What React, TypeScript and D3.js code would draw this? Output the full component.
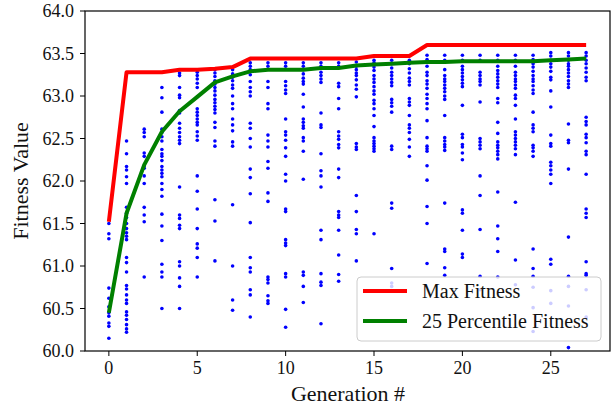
import React from 'react'
import * as d3 from 'd3'

// generation index
const generations = [0, 1, 2, 3, 4, 5, 6, 7, 8, 9, 10, 11, 12, 13, 14, 15, 16, 17, 18, 19, 20, 21, 22, 23, 24, 25, 26, 27]

const maxFitness = [
  61.52, 63.28, 63.28, 63.28, 63.31, 63.31, 63.32, 63.34, 63.44, 63.44, 63.44, 63.44, 63.44, 63.44,
  63.44, 63.47, 63.47, 63.47, 63.6, 63.6, 63.6, 63.6, 63.6, 63.6, 63.6, 63.6, 63.6, 63.6,
]

const p25Fitness = [
  60.45, 61.62, 62.19, 62.58, 62.82, 62.99, 63.16, 63.23, 63.29, 63.31, 63.31, 63.31, 63.33, 63.33,
  63.36, 63.37, 63.38, 63.39, 63.4, 63.4, 63.41, 63.41, 63.41, 63.41, 63.41, 63.42, 63.43, 63.44,
]

// fitness of every individual, one list per generation
const population = [
  [61.5, 61.38, 61.32, 60.74, 60.62, 60.52, 60.45, 60.41, 60.33, 60.29, 60.15],
  [62.47, 62.32, 62.17, 62.13, 62.05, 61.97, 61.69, 61.62, 61.57, 61.5, 61.44, 61.39, 61.35, 61.31, 61.1, 61.04, 60.93, 60.77, 60.73, 60.66, 60.6, 60.56, 60.46, 60.42, 60.37, 60.31, 60.26, 60.22],
  [62.61, 62.57, 62.52, 62.33, 62.29, 62.18, 62.15, 62.06, 61.97, 61.69, 61.6, 61.52, 60.87],
  [63.1, 62.98, 62.81, 62.61, 62.57, 62.52, 62.47, 62.37, 62.32, 62.29, 62.24, 62.17, 62.13, 62.09, 62.05, 61.97, 61.9, 61.82, 61.61, 61.47, 61.3, 61.02, 60.93, 60.87, 60.5],
  [63.27, 63.24, 63.1, 63.01, 62.98, 62.83, 62.8, 62.68, 62.62, 62.57, 62.52, 62.48, 62.44, 61.93, 61.6, 61.56, 61.48, 61.44, 61.05, 61.0, 60.86, 60.76, 60.5],
  [63.28, 63.24, 63.2, 63.15, 63.1, 62.85, 62.81, 62.77, 62.73, 62.69, 62.66, 62.58, 62.53, 62.48, 62.06, 61.88, 61.67, 61.44, 61.26, 61.21, 61.1, 60.87],
  [63.31, 63.27, 63.23, 63.18, 63.14, 63.1, 63.06, 63.01, 62.96, 62.92, 62.88, 62.84, 62.8, 62.69, 62.63, 62.47, 62.41, 61.78, 61.53, 61.06],
  [63.31, 63.26, 63.22, 63.18, 63.13, 63.09, 63.0, 62.91, 62.85, 62.73, 62.66, 62.59, 62.46, 62.41, 61.72, 61.0, 60.6, 60.48],
  [63.39, 63.35, 63.31, 63.25, 63.17, 63.1, 63.05, 63.0, 62.68, 62.62, 62.5, 62.4, 62.14, 62.04, 61.85, 61.51, 61.1, 60.98, 60.93, 60.72, 60.66, 60.4],
  [63.39, 63.35, 63.17, 63.1, 62.91, 62.85, 62.54, 62.47, 62.4, 62.23, 62.15, 61.86, 61.76, 60.87, 60.84, 60.8, 60.65, 60.59, 60.56],
  [63.39, 63.35, 63.17, 63.12, 63.07, 63.03, 62.73, 62.58, 62.54, 62.48, 62.39, 62.29, 62.08, 62.0, 61.67, 61.64, 61.31, 61.27, 61.24, 60.91, 60.87, 60.49, 60.28],
  [63.39, 63.35, 63.31, 63.26, 63.21, 63.17, 63.14, 63.02, 62.87, 62.73, 62.69, 62.65, 62.62, 62.51, 62.47, 62.35, 62.02, 60.93, 60.89, 60.76, 60.57],
  [63.39, 63.35, 63.28, 63.24, 63.2, 63.16, 62.8, 62.66, 62.63, 62.32, 62.12, 62.06, 61.93, 61.42, 61.31, 60.91, 60.81, 60.77, 60.32],
  [63.39, 63.35, 63.15, 63.11, 62.97, 62.85, 62.58, 62.53, 62.49, 62.43, 62.39, 62.14, 62.04, 61.64, 61.6, 61.57, 61.42, 61.13, 60.9, 60.82],
  [63.4, 63.35, 63.31, 63.27, 63.24, 63.19, 63.13, 63.08, 62.99, 62.44, 62.4, 62.37, 61.83, 61.64, 61.43, 61.38, 61.06],
  [63.42, 63.39, 63.34, 63.3, 63.24, 63.2, 63.16, 63.11, 63.06, 63.02, 62.95, 62.91, 62.85, 62.77, 62.64, 62.51, 62.47, 62.44, 62.41, 62.38, 62.35, 61.38],
  [63.42, 63.38, 63.33, 63.28, 63.24, 63.2, 63.16, 63.12, 62.96, 62.92, 62.88, 62.81, 62.41, 62.37, 61.74, 61.68, 60.97, 60.8, 60.76],
  [63.42, 63.38, 63.32, 63.27, 63.21, 63.17, 63.13, 62.97, 62.93, 62.89, 62.77, 62.66, 62.62, 62.57, 62.49, 62.4, 62.29],
  [63.48, 63.43, 63.35, 63.28, 63.24, 63.18, 63.14, 63.09, 63.02, 62.97, 62.91, 62.85, 62.71, 62.51, 62.41, 62.38, 62.35, 62.18, 62.01, 61.7, 61.5, 61.03],
  [63.48, 63.42, 63.31, 63.24, 63.2, 63.17, 63.13, 63.09, 63.05, 63.0, 62.96, 62.77, 62.51, 62.47, 62.43, 62.4, 62.36, 61.74, 61.2, 61.17, 60.98, 60.89],
  [63.48, 63.42, 63.35, 63.31, 63.27, 63.23, 63.19, 63.15, 63.11, 62.89, 62.55, 62.51, 62.43, 62.4, 62.33, 62.25, 61.66, 61.62, 61.42, 61.14, 61.1],
  [63.48, 63.42, 63.28, 63.24, 63.2, 63.17, 63.13, 62.93, 62.5, 62.46, 62.42, 62.38, 62.06, 61.83, 61.43, 60.88, 60.72],
  [63.48, 63.42, 63.35, 63.3, 63.26, 63.22, 63.18, 63.14, 63.1, 62.97, 62.92, 62.69, 62.56, 62.46, 62.42, 62.39, 62.35, 62.31, 62.26, 61.87, 61.47, 61.32, 61.17, 60.87],
  [63.48, 63.42, 63.35, 63.28, 63.24, 63.2, 63.17, 63.13, 63.09, 63.01, 62.97, 62.89, 62.73, 62.58, 62.54, 62.5, 62.46, 62.42, 62.38, 62.31, 61.75, 61.07, 60.78],
  [63.48, 63.43, 63.38, 63.34, 63.29, 63.24, 63.2, 63.17, 63.12, 63.07, 63.03, 62.81, 62.66, 62.62, 62.58, 62.42, 62.39, 62.35, 62.29, 61.2, 60.97, 60.88, 60.75, 60.51, 60.23],
  [63.51, 63.47, 63.42, 63.38, 63.34, 63.29, 63.22, 63.19, 63.06, 62.87, 62.54, 62.44, 62.41, 62.22, 62.18, 62.13, 62.08, 61.97, 61.08, 61.02, 60.71, 60.56],
  [63.51, 63.47, 63.42, 63.38, 63.35, 63.31, 63.27, 63.23, 63.18, 63.14, 63.1, 62.67, 62.48, 62.45, 62.14, 61.34, 60.88, 60.76, 60.53, 60.04],
  [63.51, 63.47, 63.42, 63.38, 63.33, 63.28, 63.22, 63.18, 62.75, 62.7, 62.66, 62.55, 62.51, 62.45, 62.35, 62.31, 62.08, 61.67, 61.62, 61.57, 61.05, 60.91, 60.89, 60.72, 60.4],
]

const xTicks = [0, 5, 10, 15, 20, 25]
const yTicks = [60.0, 60.5, 61.0, 61.5, 62.0, 62.5, 63.0, 63.5, 64.0]

const W = 612
const H = 406
const font = '"Liberation Serif", "Times New Roman", serif'

export default function App() {
  const left = 85, right = 610, top = 11, bottom = 351
  const x = d3.scaleLinear().domain([-1.35, 28.35]).range([left, right])
  const y = d3.scaleLinear().domain([60, 64]).range([bottom, top])

  const line = d3.line<number>()
    .x((_, i) => x(generations[i]))
    .y(d => y(d))

  const dots: { g: number; v: number }[] = []
  population.forEach((vals, i) => vals.forEach(v => dots.push({ g: generations[i], v })))

  const lx = 357, ly = 277

  return (
    <div style={{ position: 'fixed', left: 0, top: 0 }}>
      <svg width={W} height={H} style={{ display: 'block', background: '#fff' }} fontFamily={font}>
        <defs>
          <clipPath id="plot">
            <rect x={left} y={top} width={right - left} height={bottom - top} />
          </clipPath>
        </defs>
        <g clipPath="url(#plot)">
          {dots.map((d, i) => (
            <circle key={i} cx={x(d.g)} cy={y(d.v)} r={1.8} fill="#0000ff" />
          ))}
          <path d={line(maxFitness) || ''} fill="none" stroke="#ff0000" strokeWidth={4} strokeLinejoin="round" />
          <path d={line(p25Fitness) || ''} fill="none" stroke="#008000" strokeWidth={4} strokeLinejoin="round" />
        </g>
        <rect x={left} y={top} width={right - left} height={bottom - top} fill="none" stroke="#000" strokeWidth={1.2} />

        {xTicks.map(t => (
          <g key={t} transform={`translate(${x(t)},${bottom})`}>
            <line y2={5} stroke="#000" strokeWidth={1} />
            <text y={23} textAnchor="middle" fontSize={18} fill="#111">{t}</text>
          </g>
        ))}
        {yTicks.map(t => (
          <g key={t} transform={`translate(${left},${y(t)})`}>
            <line x2={-5} stroke="#000" strokeWidth={1} />
            <text x={-11} dy="0.35em" textAnchor="end" fontSize={18} fill="#111">{d3.format('.1f')(t)}</text>
          </g>
        ))}

        <text x={348} y={401} textAnchor="middle" fontSize={22} fill="#111">Generation #</text>
        <text transform={`translate(28,${(top + bottom) / 2}) rotate(-90)`} textAnchor="middle" fontSize={22} fill="#111">Fitness Value</text>

        <g transform={`translate(${lx},${ly})`}>
          <rect width={244} height={64} rx={4} fill="#fff" fillOpacity={0.8} stroke="#cccccc" strokeWidth={1} />
          <line x1={6} x2={50} y1={14} y2={14} stroke="#ff0000" strokeWidth={4} />
          <text x={65} y={14} dy="0.35em" fontSize={20} fill="#111">Max Fitness</text>
          <line x1={6} x2={50} y1={44} y2={44} stroke="#008000" strokeWidth={4} />
          <text x={65} y={44} dy="0.35em" fontSize={20} fill="#111">25 Percentile Fitness</text>
        </g>
      </svg>
    </div>
  )
}
